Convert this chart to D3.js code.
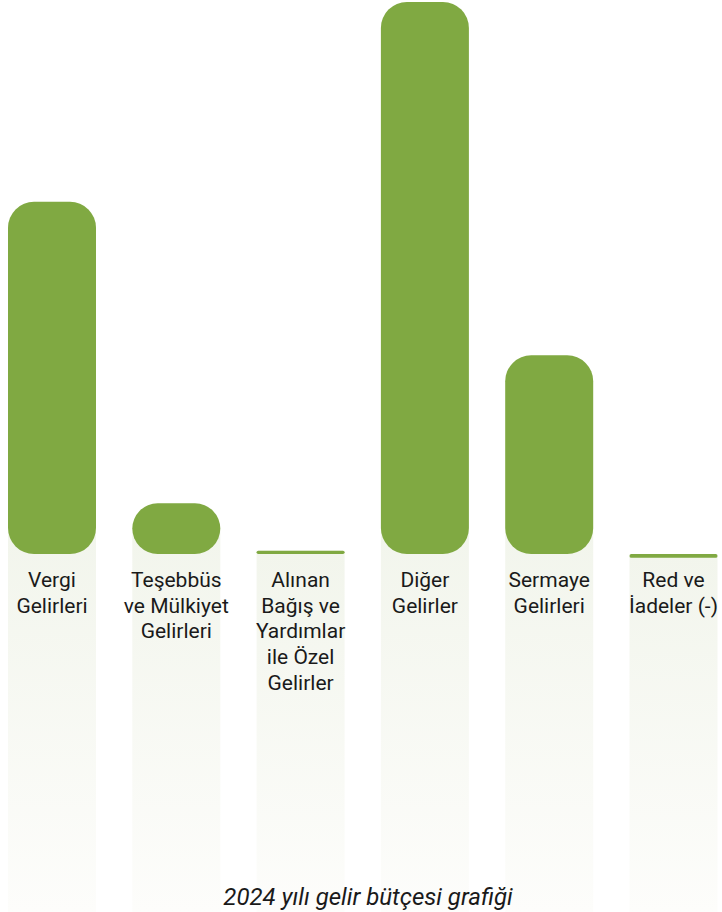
<!DOCTYPE html>
<html>
<head>
<meta charset="utf-8">
<script src="https://cdn.jsdelivr.net/npm/d3@7"></script>
<style>
  body { margin: 0; background: #fff; }
  svg { display: block; font-family: Roboto, sans-serif; }
</style>
</head>
<body>
<svg width="722" height="912"></svg>
<script>
const width = 722;
const height = 912;
const baseline = 554;
const radius = 26;

// 2024 gelir bütçesi (relative values)
const categories = [
  "Vergi Gelirleri",
  "Teşebbüs ve Mülkiyet Gelirleri",
  "Alınan Bağış ve Yardımlar ile Özel Gelirler",
  "Diğer Gelirler",
  "Sermaye Gelirleri",
  "Red ve İadeler (-)"
];
const values = [63.8, 9.2, 0.6, 100, 36.0, -0.7];
const labelLines = [
  ["Vergi", "Gelirleri"],
  ["Teşebbüs", "ve Mülkiyet", "Gelirleri"],
  ["Alınan", "Bağış ve", "Yardımlar", "ile Özel", "Gelirler"],
  ["Diğer", "Gelirler"],
  ["Sermaye", "Gelirleri"],
  ["Red ve", "İadeler (-)"]
];
const caption = "2024 yılı gelir bütçesi grafiği";

const data = categories.map((c, i) => ({ name: c, value: values[i], lines: labelLines[i] }));

const svg = d3.select("svg");

const xScale = d3.scaleBand()
  .domain(categories)
  .range([8, 717.5])
  .paddingInner(0.292)
  .paddingOuter(0);

const yScale = d3.scaleLinear()
  .domain([0, 100])
  .range([baseline, 2]);

const barTop = d => Math.min(yScale(d.value), yScale(0));
const barH = d => Math.max(Math.abs(yScale(d.value) - yScale(0)), 3);

// fading column gradient
const defs = svg.append("defs");
const grad = defs.append("linearGradient")
  .attr("id", "colFade")
  .attr("x1", 0).attr("y1", 0).attr("x2", 0).attr("y2", 1);
grad.append("stop").attr("offset", "0%").attr("stop-color", "#f2f5ec");
grad.append("stop").attr("offset", "100%").attr("stop-color", "#fdfdfb");

svg.selectAll("rect.col")
  .data(data)
  .enter()
  .append("rect")
  .attr("class", "col")
  .attr("x", d => xScale(d.name))
  .attr("y", d => Math.max(barTop(d), baseline - radius))
  .attr("width", xScale.bandwidth())
  .attr("height", d => height - Math.max(barTop(d), baseline - radius))
  .attr("fill", "url(#colFade)");

svg.selectAll("rect.bar")
  .data(data)
  .enter()
  .append("rect")
  .attr("class", "bar")
  .attr("x", d => xScale(d.name))
  .attr("y", barTop)
  .attr("width", xScale.bandwidth())
  .attr("height", barH)
  .attr("rx", d => Math.min(radius, barH(d) / 2))
  .attr("ry", d => Math.min(radius, barH(d) / 2))
  .attr("fill", "#80a942");

// labels
const labels = svg.selectAll("text.label")
  .data(data)
  .enter()
  .append("text")
  .attr("class", "label")
  .attr("text-anchor", "middle")
  .attr("font-size", 21)
  .attr("fill", "#1a1a1a");

labels.selectAll("tspan")
  .data(d => d.lines.map(l => ({ l, x: xScale(d.name) + xScale.bandwidth() / 2 })))
  .enter()
  .append("tspan")
  .attr("x", d => d.x)
  .attr("y", (d, i) => 587 + i * 25.7)
  .text(d => d.l);

svg.append("text")
  .attr("x", 368)
  .attr("y", 905)
  .attr("text-anchor", "middle")
  .attr("font-size", 24)
  .attr("font-style", "italic")
  .attr("fill", "#1a1a1a")
  .text(caption);
</script>
</body>
</html>
